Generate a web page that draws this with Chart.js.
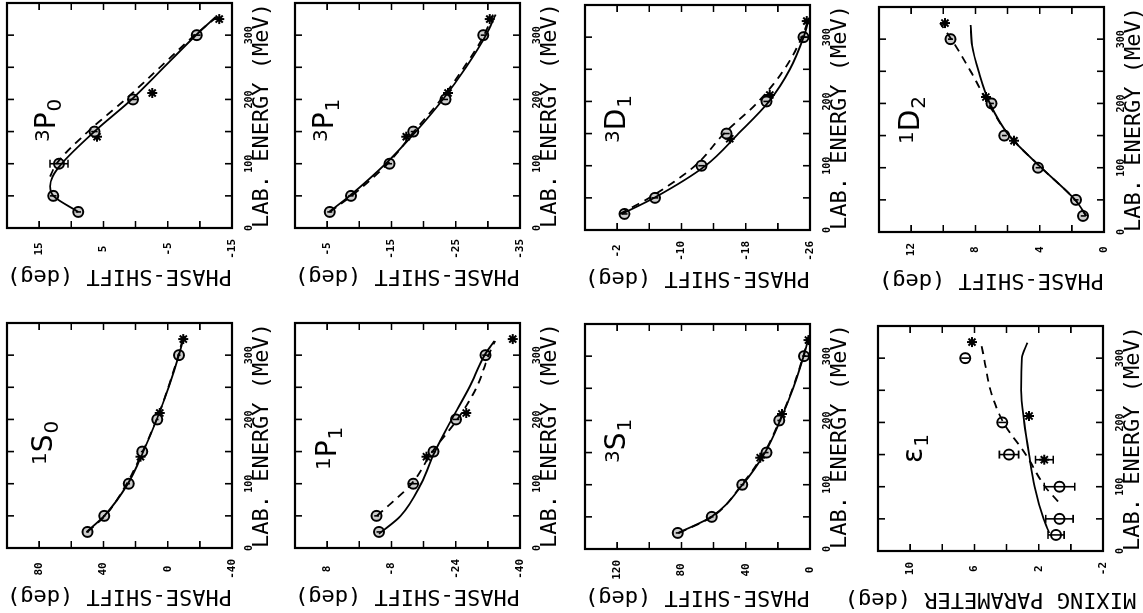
<!DOCTYPE html>
<html>
<head>
<meta charset="utf-8">
<script src="https://cdn.jsdelivr.net/npm/chart.js@4.4.1/dist/chart.umd.min.js"></script>
<style>
  html, body { margin: 0; padding: 0; background: #fff; overflow: hidden; width: 1143px; height: 613px; }
  /* the figure is laid out upright, then turned a quarter turn to the left */
  #sheet { position: absolute; left: 0; top: 0; width: 613px; height: 1143px;
           transform-origin: 0 0; transform: translate(0px, 613px) rotate(-90deg); }
  #sheet canvas { position: absolute; }
</style>
</head>
<body>
<div id="sheet"></div>
<script>
// --- DONNEES ---
// energies of the measured points (MeV)
const ePts = [25, 50, 100, 150, 200, 300];
const eStars = [142, 210, 325];

// 1S0
const ph1S0 = [49.9, 39.5, 24.3, 15.9, 6.5, -7.0];
const er1S0 = [0.8, 0.8, 0.8, 0.8, 0.8, 1.0];
const st1S0 = [17.0, 4.9, -9.7];
const eSol1S0 = [25, 50, 100, 150, 200, 250, 300, 330];
const sol1S0 = [50.5, 39.5, 24.8, 15.2, 6.8, -0.6, -7.0, -10.2];
const eDas1S0 = [25, 50, 100, 150, 200, 250, 300, 330];
const das1S0 = [50.0, 39.0, 25.5, 15.6, 6.9, -0.4, -6.6, -9.8];

// 3P0
const ph3P0 = [8.9, 12.8, 11.9, 6.4, 0.4, -9.5];
const er3P0 = [0.4, 0.5, 1.4, 0.5, 0.6, 0.6];
const st3P0 = [6.0, -2.6, -13.0];
const eSol3P0 = [25, 50, 65, 80, 100, 150, 200, 250, 300, 328];
const sol3P0 = [8.9, 12.8, 13.3, 12.9, 11.5, 6.4, 0.6, -4.4, -9.4, -12.4];
const eDas3P0 = [80, 100, 150, 200, 250, 300, 328];
const das3P0 = [13.3, 12.3, 7.4, 1.6, -3.8, -9.2, -12.6];

// 1P1
const ph1P1 = [-4.9, -4.3, -13.4, -18.5, -24.1, -31.4];
const er1P1 = [0.6, 0.6, 1.2, 0.6, 0.8, 0.8];
const st1P1 = [-16.7, -26.6, -38.2];
const eSol1P1 = [22, 50, 100, 150, 200, 250, 300, 322];
const sol1P1 = [-4.9, -10.3, -15.4, -18.8, -23.0, -27.4, -31.2, -33.6];
const eDas1P1 = [50, 100, 150, 200, 250, 300, 322];
const das1P1 = [-4.4, -13.0, -18.2, -24.4, -29.2, -32.2, -33.8];

// 3P1
const ph3P1 = [-5.4, -8.7, -14.7, -18.4, -23.4, -29.3];
const er3P1 = [0.4, 0.4, 0.4, 0.4, 0.4, 0.4];
const st3P1 = [-17.3, -23.8, -30.3];
const eSol3P1 = [25, 50, 100, 150, 200, 250, 300, 332];
const sol3P1 = [-5.3, -8.5, -14.1, -18.8, -23.0, -26.6, -29.7, -31.2];
const eDas3P1 = [25, 50, 100, 150, 200, 250, 300, 332];
const das3P1 = [-5.4, -8.8, -14.4, -18.5, -22.7, -26.3, -29.4, -30.8];

// 3S1
const ph3S1 = [82.3, 61.2, 42.1, 27.0, 19.1, 3.7];
const er3S1 = [1.2, 1.2, 1.2, 1.2, 1.2, 1.2];
const st3S1 = [31.0, 17.5, 1.0];
const eSol3S1 = [25, 50, 100, 150, 200, 250, 300, 330];
const sol3S1 = [82.0, 61.5, 42.0, 28.0, 18.5, 10.5, 4.0, 0.8];
const eDas3S1 = [25, 50, 100, 150, 200, 250, 300, 330];
const das3S1 = [81.5, 61.0, 42.5, 28.5, 18.8, 10.8, 4.2, 1.0];

// 3D1
const ph3D1 = [-2.9, -6.7, -12.5, -15.6, -20.6, -25.2];
const er3D1 = [0.4, 0.4, 0.4, 0.4, 0.4, 0.4];
const st3D1 = [-16.0, -21.0, -25.6];
const eSol3D1 = [25, 50, 100, 150, 200, 250, 300, 330];
const sol3D1 = [-2.6, -6.6, -13.0, -17.1, -20.9, -23.5, -25.2, -25.9];
const eDas3D1 = [25, 50, 100, 150, 200, 250, 300, 330];
const das3D1 = [-2.3, -6.0, -11.7, -15.3, -19.6, -22.8, -25.0, -25.9];

// epsilon 1
const phEps1 = [0.92, 0.71, 0.71, 3.85, 4.27, 6.57];
const erEps1 = [0.5, 0.85, 0.95, 0.6, 0.25, 0.25];
const stEps1 = [1.65, 2.6, 6.15];
const stErEps1 = [0.55, 0.2, 0.2];
const eSolEps1 = [28, 50, 100, 150, 200, 250, 300, 324];
const solEps1 = [1.35, 1.7, 2.25, 2.6, 2.9, 3.1, 3.05, 2.7];
const eDasEps1 = [77, 100, 150, 200, 250, 300, 325];
const dasEps1 = [0.8, 1.6, 2.8, 4.2, 5.0, 5.4, 5.6];

// 1D2
const ph1D2 = [1.3, 1.74, 4.1, 6.2, 7.0, 9.55];
const er1D2 = [0.15, 0.15, 0.15, 0.15, 0.15, 0.15];
const st1D2 = [5.6, 7.35, 9.9];
const eSol1D2 = [25, 50, 100, 150, 200, 250, 290, 322];
const sol1D2 = [1.1, 1.8, 3.9, 5.9, 7.1, 7.8, 8.2, 8.3];
const eDas1D2 = [25, 50, 100, 150, 200, 250, 300, 325];
const das1D2 = [1.1, 1.8, 3.9, 5.9, 7.2, 8.3, 9.5, 10.2];

const eMax = 350;
const eStep = 50;
const phaseTitle = "PHASE-SHIFT (deg)";
const energyTitle = "LAB. ENERGY (MeV)";

// --- PANNEAUX ---
const panels = [
  { pre: "1", main: "S", sub: "0", min: -40, step: 20, left: 65, top: 7, lab: [83, 45],
    pts: ph1S0, err: er1S0, stars: st1S0, solid: [eSol1S0, sol1S0], dashed: [eDas1S0, das1S0] },
  { pre: "3", main: "P", sub: "0", min: -15, step: 5, left: 385, top: 7, lab: [86, 48],
    pts: ph3P0, err: er3P0, stars: st3P0, solid: [eSol3P0, sol3P0], dashed: [eDas3P0, das3P0] },
  { pre: "1", main: "P", sub: "1", min: -40, step: 8, left: 65, top: 295, lab: [78, 41],
    pts: ph1P1, err: er1P1, stars: st1P1, solid: [eSol1P1, sol1P1], dashed: [eDas1P1, das1P1] },
  { pre: "3", main: "P", sub: "1", min: -35, step: 5, left: 385, top: 295, lab: [86, 38],
    pts: ph3P1, err: er3P1, stars: st3P1, solid: [eSol3P1, sol3P1], dashed: [eDas3P1, das3P1] },
  { pre: "3", main: "S", sub: "1", min: 0, step: 20, left: 64, top: 585, lab: [86, 40],
    pts: ph3S1, err: er3S1, stars: st3S1, solid: [eSol3S1, sol3S1], dashed: [eDas3S1, das3S1] },
  { pre: "3", main: "D", sub: "1", min: -26, step: 4, left: 383, top: 585, lab: [87, 40],
    pts: ph3D1, err: er3D1, stars: st3D1, solid: [eSol3D1, sol3D1], dashed: [eDas3D1, das3D1] },
  { pre: "", main: "\u03b5", sub: "1", min: -2, step: 2, left: 62, top: 878, lab: [88, 44],
    title: "MIXING PARAMETER (deg)", open: true,
    pts: phEps1, err: erEps1, stars: stEps1, starErr: stErEps1, solid: [eSolEps1, solEps1], dashed: [eDasEps1, dasEps1] },
  { pre: "1", main: "D", sub: "2", min: 0, step: 2, left: 381, top: 879, lab: [88, 40],
    pts: ph1D2, err: er1D2, stars: st1D2, solid: [eSol1D2, sol1D2], dashed: [eDas1D2, das1D2] },
];

const xy = (xs, ys) => xs.map((x, i) => ({ x: x, y: ys[i] }));

// cadre + graduations vers l'interieur
const framePlugin = {
  id: "frame",
  afterDraw(chart) {
    const { ctx, chartArea: a, scales } = chart;
    const tl = 7;
    ctx.save();
    ctx.strokeStyle = "#000";
    ctx.lineWidth = 1.6;
    ctx.beginPath();
    scales.x.ticks.forEach((t) => {
      const px = scales.x.getPixelForValue(t.value);
      ctx.moveTo(px, a.bottom); ctx.lineTo(px, a.bottom - tl);
      ctx.moveTo(px, a.top); ctx.lineTo(px, a.top + tl);
    });
    scales.y.ticks.forEach((t) => {
      const py = scales.y.getPixelForValue(t.value);
      ctx.moveTo(a.left, py); ctx.lineTo(a.left + tl, py);
      ctx.moveTo(a.right, py); ctx.lineTo(a.right - tl, py);
    });
    ctx.stroke();
    ctx.lineWidth = 2.2;
    ctx.strokeRect(a.left, a.top, a.right - a.left, a.bottom - a.top);
    ctx.restore();
  },
};

// barres d'erreur
const errPlugin = {
  id: "errbars",
  afterDatasetsDraw(chart) {
    const { ctx, scales } = chart;
    ctx.save();
    ctx.strokeStyle = "#000";
    ctx.lineWidth = 1.6;
    chart.data.datasets.forEach((ds) => {
      if (!ds.errors) return;
      ds.data.forEach((p, i) => {
        const px = scales.x.getPixelForValue(p.x);
        const y1 = scales.y.getPixelForValue(p.y - ds.errors[i]);
        const y2 = scales.y.getPixelForValue(p.y + ds.errors[i]);
        ctx.beginPath();
        ctx.moveTo(px, y1); ctx.lineTo(px, y2);
        if (y1 - y2 > 12) {
          ctx.moveTo(px - 4, y1); ctx.lineTo(px + 4, y1);
          ctx.moveTo(px - 4, y2); ctx.lineTo(px + 4, y2);
        }
        ctx.stroke();
      });
    });
    ctx.restore();
  },
};

// nom de l'onde partielle
const wavePlugin = {
  id: "wave",
  afterDraw(chart, args, opts) {
    const { ctx, chartArea: a } = chart;
    let x = a.left + opts.at[0];
    const y = a.top + opts.at[1];
    ctx.save();
    ctx.fillStyle = "#000";
    ctx.textBaseline = "alphabetic";
    ctx.font = '20px "DejaVu Sans"';
    if (opts.pre) {
      ctx.fillText(opts.pre, x, y - 6);
      x += ctx.measureText(opts.pre).width;
    }
    ctx.font = '28px "DejaVu Sans"';
    ctx.fillText(opts.main, x, y);
    x += ctx.measureText(opts.main).width + 1;
    ctx.font = '20px "DejaVu Sans"';
    ctx.fillText(opts.sub, x, y + 6);
    ctx.restore();
  },
};

Chart.defaults.font.family = '"DejaVu Sans Mono", monospace';
Chart.defaults.color = "#000";

const sheet = document.getElementById("sheet");

panels.forEach((p) => {
  const cv = document.createElement("canvas");
  cv.width = 300;
  cv.height = 312;
  cv.style.left = p.left - 65 + "px";
  cv.style.top = p.top - 40 + "px";
  cv.style.width = "300px";
  cv.style.height = "312px";
  sheet.appendChild(cv);

  const marks = {
    showLine: false,
    borderColor: "#000",
    pointBorderColor: "#000",
    pointBorderWidth: 2,
  };

  new Chart(cv, {
    type: "line",
    data: {
      datasets: [
        {
          data: xy(p.solid[0], p.solid[1]),
          borderColor: "#000",
          borderWidth: 1.8,
          pointRadius: 0,
          cubicInterpolationMode: "monotone",
          fill: false,
        },
        {
          data: xy(p.dashed[0], p.dashed[1]),
          borderColor: "#000",
          borderWidth: 1.8,
          borderDash: [8, 6],
          pointRadius: 0,
          cubicInterpolationMode: "monotone",
          fill: false,
        },
        Object.assign({}, marks, {
          data: xy(ePts, p.pts),
          errors: p.err,
          pointStyle: "circle",
          pointRadius: 5,
          pointBackgroundColor: p.open ? "#fff" : "#ccc",
        }),
        // trait horizontal dans les cercles
        Object.assign({}, marks, {
          data: xy(ePts, p.pts),
          pointStyle: "line",
          pointRadius: p.open ? 0 : 5,
          pointBorderWidth: 1.5,
        }),
        Object.assign({}, marks, {
          data: xy(eStars, p.stars),
          errors: p.starErr || null,
          pointStyle: "star",
          pointRadius: 5,
          pointBackgroundColor: "#000",
        }),
      ],
    },
    options: {
      responsive: false,
      devicePixelRatio: 1,
      animation: false,
      layout: { padding: { top: 40, right: 10, left: 0, bottom: 0 } },
      plugins: {
        legend: { display: false },
        tooltip: { enabled: false },
        wave: { pre: p.pre, main: p.main, sub: p.sub, at: p.lab },
      },
      scales: {
        x: {
          type: "linear",
          min: 0,
          max: eMax,
          grid: { display: false },
          border: { display: false },
          afterFit: (s) => { s.height = 47; },
          ticks: {
            stepSize: eStep,
            autoSkip: false,
            maxRotation: 0,
            padding: 3,
            font: { size: 10, weight: "bold" },
            callback: (v) => (v % 100 === 0 ? String(v) : ""),
          },
          title: {
            display: true,
            text: energyTitle,
            font: { size: 22 },
            padding: { top: 4, bottom: 4 },
          },
        },
        y: {
          type: "linear",
          min: p.min,
          max: p.min + 7 * p.step,
          grid: { display: false },
          border: { display: false },
          afterFit: (s) => { s.width = 65; },
          ticks: {
            stepSize: p.step,
            autoSkip: false,
            crossAlign: "center",
            padding: 3,
            font: { size: 11, weight: "bold" },
            callback: (v) => (Math.round((v - p.min) / p.step) % 2 === 0 ? String(v) : ""),
          },
          title: {
            display: true,
            text: p.title || phaseTitle,
            font: { size: 22 },
            padding: { top: 4, bottom: 4 },
          },
        },
      },
    },
    plugins: [framePlugin, errPlugin, wavePlugin],
  });
});
</script>
</body>
</html>
